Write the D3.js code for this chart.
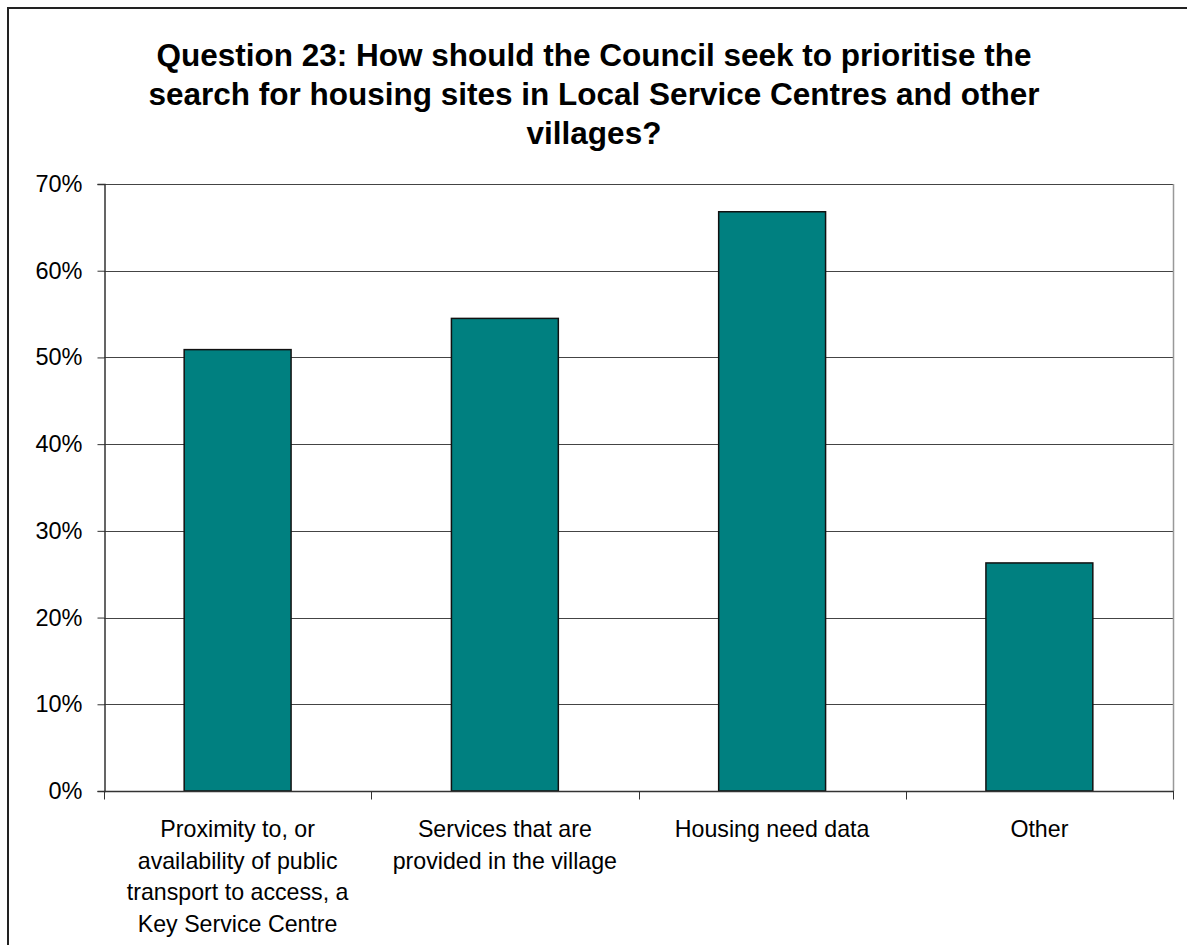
<!DOCTYPE html>
<html>
<head>
<meta charset="utf-8">
<script src="https://cdn.jsdelivr.net/npm/d3@7"></script>
<style>
  html, body { margin: 0; padding: 0; background: #fff; }
  svg { display: block; }
</style>
</head>
<body>
<svg id="chart" width="1187" height="945"></svg>
<script>
// Survey responses for Question 23 (share of respondents)
const categories = [
  ["Proximity to, or", "availability of public", "transport to access, a", "Key Service Centre"],
  ["Services that are", "provided in the village"],
  ["Housing need data"],
  ["Other"]
];
const values = [0.509, 0.545, 0.668, 0.263];
const yTicks = [0, 0.1, 0.2, 0.3, 0.4, 0.5, 0.6, 0.7];
const titleLines = [
  "Question 23: How should the Council seek to prioritise the",
  "search for housing sites in Local Service Centres and other",
  "villages?"
];

const svg = d3.select("#chart");
const font = "'Liberation Sans', Arial, sans-serif";

// Outer chart frame
svg.append("rect")
  .attr("x", 8).attr("y", 8)
  .attr("width", 1400).attr("height", 1200)
  .attr("fill", "#fff")
  .attr("stroke", "#222").attr("stroke-width", 2);

// Title
svg.append("g").selectAll("text")
  .data(titleLines)
  .join("text")
  .attr("x", 594)
  .attr("y", (d, i) => 66 + i * 39)
  .attr("text-anchor", "middle")
  .attr("font-family", font)
  .attr("font-weight", "bold")
  .attr("font-size", 31.5)
  .attr("fill", "#000")
  .text(d => d);

const plot = { left: 104, right: 1173, top: 184, bottom: 791 };

const x = d3.scaleBand()
  .domain(d3.range(values.length))
  .range([plot.left, plot.right])
  .paddingInner(0.6)
  .paddingOuter(0.3);

const xBoundary = d3.scaleLinear()
  .domain([0, values.length])
  .range([plot.left, plot.right]);

const y = d3.scaleLinear()
  .domain([0, 0.7])
  .range([plot.bottom, plot.top]);

// Horizontal gridlines
svg.append("g").selectAll("line")
  .data(yTicks.filter(t => t > 0))
  .join("line")
  .attr("x1", plot.left).attr("x2", plot.right)
  .attr("y1", d => Math.round(y(d)) + 0.5)
  .attr("y2", d => Math.round(y(d)) + 0.5)
  .attr("stroke", "#444").attr("stroke-width", 1);

// Plot area right edge
svg.append("line")
  .attr("x1", plot.right + 0.5).attr("x2", plot.right + 0.5)
  .attr("y1", plot.top).attr("y2", plot.bottom)
  .attr("stroke", "#999").attr("stroke-width", 1.5);

// Bars
svg.append("g").selectAll("rect")
  .data(values)
  .join("rect")
  .attr("x", (d, i) => x(i))
  .attr("y", d => y(d))
  .attr("width", x.bandwidth())
  .attr("height", d => y(0) - y(d))
  .attr("fill", "#008080")
  .attr("stroke", "#111")
  .attr("stroke-width", 1.5);

// Y axis
const yAxis = d3.axisLeft(y)
  .tickValues(yTicks)
  .tickFormat(d3.format(".0%"))
  .tickSize(7)
  .tickPadding(15);

const yg = svg.append("g")
  .attr("transform", `translate(${plot.left + 0.5},0)`)
  .call(yAxis);
yg.select(".domain").attr("stroke", "#333").attr("stroke-width", 1.5);
yg.selectAll(".tick line").attr("stroke", "#333");
yg.selectAll(".tick text")
  .attr("font-family", font)
  .attr("font-size", 23.5)
  .attr("fill", "#000");

// X axis with ticks at category boundaries
const xg = svg.append("g")
  .attr("transform", `translate(0,${plot.bottom + 0.5})`);
xg.append("line")
  .attr("x1", plot.left).attr("x2", plot.right + 1)
  .attr("stroke", "#333").attr("stroke-width", 1.5);
xg.selectAll("line.tick")
  .data(d3.range(values.length + 1))
  .join("line")
  .attr("class", "tick")
  .attr("x1", d => Math.round(xBoundary(d)) + 0.5)
  .attr("x2", d => Math.round(xBoundary(d)) + 0.5)
  .attr("y1", 0).attr("y2", 8)
  .attr("stroke", "#333");

// Category labels
const labels = svg.append("g").selectAll("text")
  .data(categories)
  .join("text")
  .attr("text-anchor", "middle")
  .attr("font-family", font)
  .attr("font-size", 23.2)
  .attr("fill", "#000");
labels.each(function(lines, i) {
  const cx = x(i) + x.bandwidth() / 2;
  d3.select(this).selectAll("tspan")
    .data(lines)
    .join("tspan")
    .attr("x", cx)
    .attr("y", (d, j) => 837 + j * 31.7)
    .text(d => d);
});
</script>
</body>
</html>
